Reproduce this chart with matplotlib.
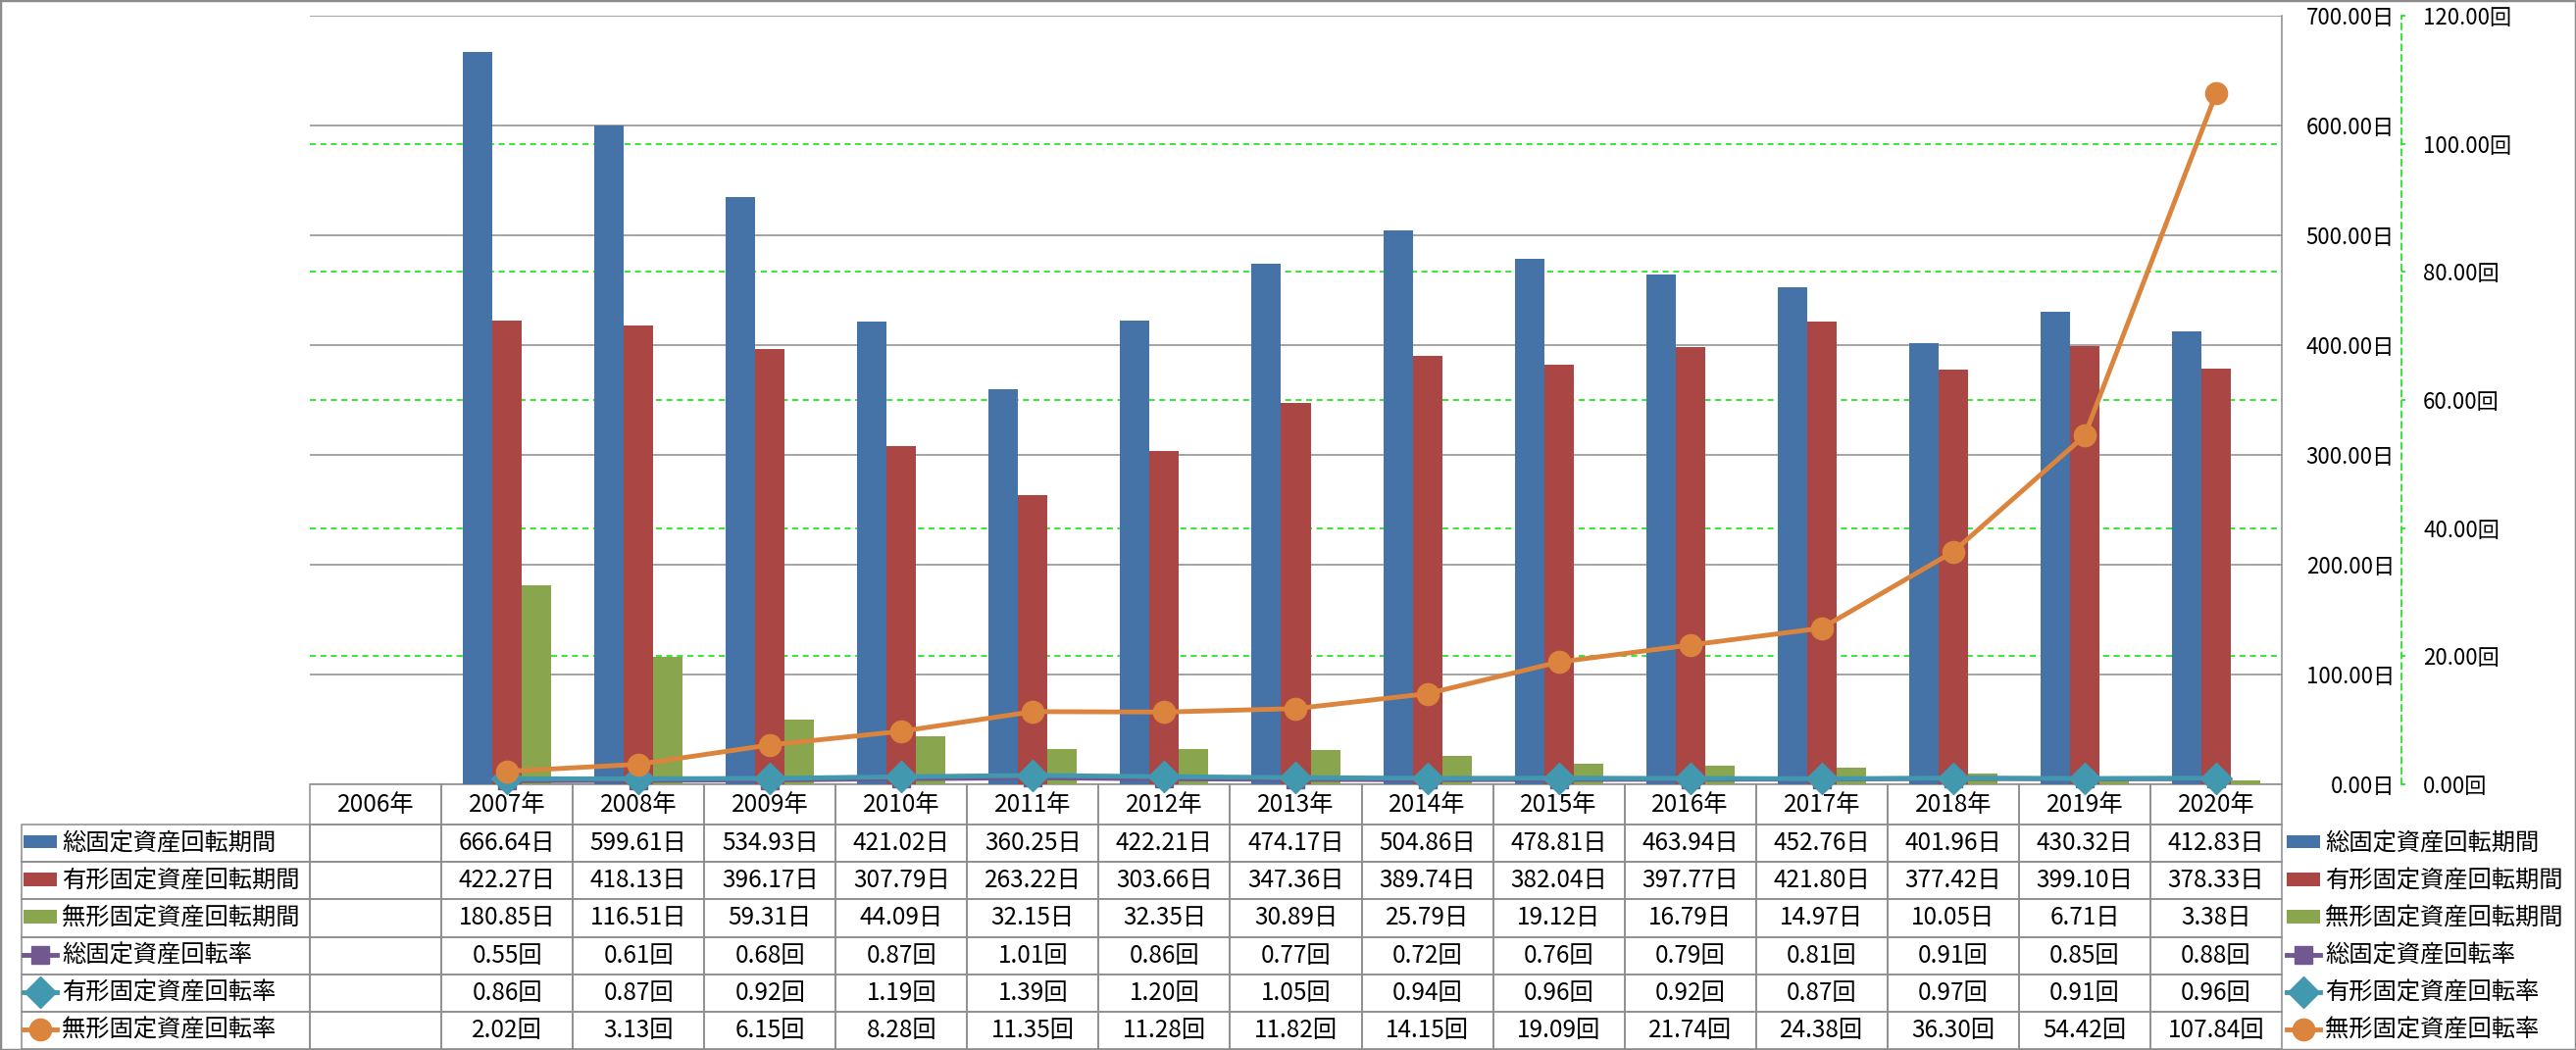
import numpy as np
import matplotlib
matplotlib.use('Agg')
import matplotlib.pyplot as plt
from matplotlib.table import Table
from matplotlib.patches import Rectangle

plt.rcParams['font.family'] = ['Noto Sans CJK JP', 'DejaVu Sans']

# ---------------- data ----------------
years = ['2006年', '2007年', '2008年', '2009年', '2010年', '2011年', '2012年', '2013年',
         '2014年', '2015年', '2016年', '2017年', '2018年', '2019年', '2020年']

total_period = [np.nan, 666.64, 599.61, 534.93, 421.02, 360.25, 422.21, 474.17,
                504.86, 478.81, 463.94, 452.76, 401.96, 430.32, 412.83]
tangible_period = [np.nan, 422.27, 418.13, 396.17, 307.79, 263.22, 303.66, 347.36,
                   389.74, 382.04, 397.77, 421.80, 377.42, 399.10, 378.33]
intangible_period = [np.nan, 180.85, 116.51, 59.31, 44.09, 32.15, 32.35, 30.89,
                     25.79, 19.12, 16.79, 14.97, 10.05, 6.71, 3.38]
total_rate = [np.nan, 0.55, 0.61, 0.68, 0.87, 1.01, 0.86, 0.77,
              0.72, 0.76, 0.79, 0.81, 0.91, 0.85, 0.88]
tangible_rate = [np.nan, 0.86, 0.87, 0.92, 1.19, 1.39, 1.20, 1.05,
                 0.94, 0.96, 0.92, 0.87, 0.97, 0.91, 0.96]
intangible_rate = [np.nan, 2.02, 3.13, 6.15, 8.28, 11.35, 11.28, 11.82,
                   14.15, 19.09, 21.74, 24.38, 36.30, 54.42, 107.84]

series_names = ['総固定資産回転期間', '有形固定資産回転期間', '無形固定資産回転期間',
                '総固定資産回転率', '有形固定資産回転率', '無形固定資産回転率']

primary_ticks = [0, 100, 200, 300, 400, 500, 600, 700]
secondary_ticks = [0, 20, 40, 60, 80, 100, 120]

# ---------------- style ----------------
C_BLUE, C_RED, C_GREEN = '#4572A7', '#AA4643', '#89A54E'
C_PURPLE, C_TEAL, C_ORANGE = '#71588F', '#4198AF', '#DB843D'
GRID_GRAY = '#8C8C8C'
LIME = '#00E000'
EDGE = '#8C8C8C'

W, H = 2627, 1071
fig = plt.figure(figsize=(W / 100, H / 100), dpi=100)


def fx(px):
    return px / W


def fy(py):
    return 1 - py / H


PL, PR, PT, PB = 316, 2327, 16, 800
ax = fig.add_axes([fx(PL), fy(PB), (PR - PL) / W, (PB - PT) / H])
ax.patch.set_visible(False)

x = np.arange(len(years))
bw = 0.224
b1 = ax.bar(x - bw, total_period, bw, color=C_BLUE, zorder=2)
b2 = ax.bar(x, tangible_period, bw, color=C_RED, zorder=2)
b3 = ax.bar(x + bw, intangible_period, bw, color=C_GREEN, zorder=2)

ax.set_xlim(-0.5, len(years) - 0.5)
ax.set_ylim(primary_ticks[0], primary_ticks[-1])
ax.set_xticks([])
ax.set_yticks(primary_ticks)
ax.set_yticklabels([f'{v:.2f}日' for v in primary_ticks])
# secondary-axis gridlines drawn behind the bars (as minor grid of primary)
ratio = primary_ticks[-1] / secondary_ticks[-1]
ax.set_yticks([v * ratio for v in secondary_ticks[1:-1]], minor=True)
ax.grid(axis='y', which='major', color=GRID_GRAY, lw=1.1, zorder=0)
ax.grid(axis='y', which='minor', color=LIME, lw=1.1, ls=(0, (4, 3)), zorder=0)
ax.set_axisbelow(True)
for s in ['left', 'top', 'bottom']:
    ax.spines[s].set_visible(False)
ax.spines['right'].set_color(GRID_GRAY)
ax.spines['right'].set_linewidth(1.1)

ax2 = ax.twinx()
ax2.set_ylim(secondary_ticks[0], secondary_ticks[-1])
ax2.set_yticks(secondary_ticks)
ax2.set_yticklabels([f'{v:.2f}回' for v in secondary_ticks])
for s in ['left', 'top', 'bottom']:
    ax2.spines[s].set_visible(False)
ax2.spines['right'].set_position(('outward', 122 * 0.72))
ax2.spines['right'].set_color(LIME)
ax2.spines['right'].set_linestyle((0, (4, 3)))
ax2.spines['right'].set_linewidth(1.1)
ax2.tick_params(axis='y', direction='out', length=3, width=1.1, color=LIME, pad=13, labelsize=16)

# primary labels on the right too (twinx moved them left)
ax.yaxis.tick_right()
ax.tick_params(axis='y', which='major', left=False, labelleft=False, right=False,
               labelright=True, length=0, pad=115 * 0.72, labelsize=16)
ax.tick_params(axis='y', which='minor', left=False, right=False, length=0)
for t in ax.get_yticklabels():
    t.set_ha('right')

l1, = ax2.plot(x, total_rate, color=C_PURPLE, lw=3.5, marker='s', ms=13,
               mec=C_PURPLE, mfc=C_PURPLE, zorder=3, clip_on=False)
l2, = ax2.plot(x, tangible_rate, color=C_TEAL, lw=3.5, marker='D', ms=16,
               mec=C_TEAL, mfc=C_TEAL, zorder=4, clip_on=False)
l3, = ax2.plot(x, intangible_rate, color=C_ORANGE, lw=3.5, marker='o', ms=16,
               mec=C_ORANGE, mfc=C_ORANGE, zorder=5, clip_on=False)

# ---------------- data table ----------------
TB = 1070
tax = fig.add_axes([fx(PL), fy(TB), (PR - PL) / W, (TB - PB) / H])
tax.axis('off')
tax.set_zorder(-1)

tbl = Table(tax, bbox=[0, 0, 1, 1])
ncol = len(years)
col_px = (PR - PL) / ncol
tot_h = TB - PB
head_h = 41 / tot_h
row_h = (tot_h - 41) / 6 / tot_h
cw = 1 / ncol
label_w = (PL - 22) / col_px * cw
for j, yl in enumerate(years):
    tbl.add_cell(0, j, width=cw, height=head_h, text=yl, loc='center',
                 edgecolor=EDGE, facecolor='none')
rows = [(total_period, '日'), (tangible_period, '日'), (intangible_period, '日'),
        (total_rate, '回'), (tangible_rate, '回'), (intangible_rate, '回')]
for i, (vals, unit) in enumerate(rows, start=1):
    tbl.add_cell(i, -1, width=label_w, height=row_h, text='', edgecolor=EDGE, facecolor='none')
    for j, v in enumerate(vals):
        txt = '' if np.isnan(v) else f'{v:.2f}{unit}'
        tbl.add_cell(i, j, width=cw, height=row_h, text=txt, loc='center',
                     edgecolor=EDGE, facecolor='none')
tbl.auto_set_font_size(False)
tbl.set_fontsize(17.5)
for cell in tbl.get_celld().values():
    cell.set_linewidth(1.1)
tax.add_table(tbl)

# ---------------- legend keys (table column and right side) ----------------
handles = [b1, b2, b3, l1, l2, l3]
for k, (h, name) in enumerate(zip(handles, series_names)):
    yc = PB + 41 + (tot_h - 41) / 6 * (k + 0.5)
    for xl in (24, 2332):
        fig.legend([h], [name], loc='center left', bbox_to_anchor=(fx(xl), fy(yc)),
                   frameon=False, borderpad=0, borderaxespad=0, handlelength=1.4,
                   handleheight=0.5, handletextpad=0.2, fontsize=17.5)

fig.add_artist(Rectangle((0, 0), 1, 1, transform=fig.transFigure, fill=False,
                         ec='#8C8C8C', lw=2.5))

fig.savefig('out.png', dpi=100)
